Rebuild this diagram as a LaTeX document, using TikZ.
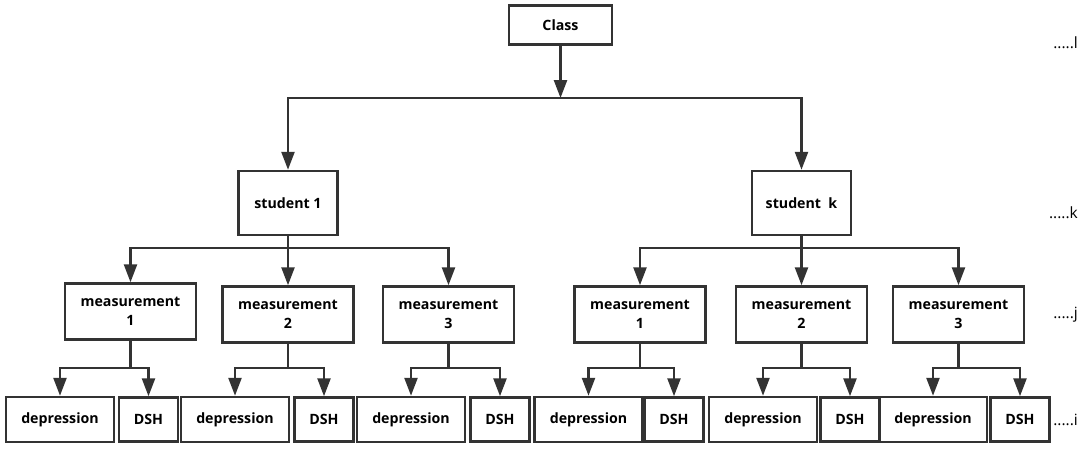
\documentclass[tikz,border=0pt]{standalone}
\usepackage{fontspec}
\setmainfont{Open Sans}
\usetikzlibrary{arrows.meta}
\usetikzlibrary{positioning}
\definecolor{linegray}{HTML}{333333}
\tikzset{box/.style = {draw = linegray, line width = 2.5pt, align = center, inner sep = 0,
    font = \bfseries\fontsize{14.2}{19}\selectfont}}
\tikzset{clsbox/.style = {box, minimum width = 103pt, minimum height = 39pt}}
\tikzset{stdbox/.style = {box, minimum width = 99pt, minimum height = 64pt}}
\tikzset{msrbox/.style = {box, minimum width = 131pt, minimum height = 56pt}}
\tikzset{depbox/.style = {box, minimum width = 108pt, minimum height = 45pt}}
\tikzset{dshbox/.style = {box, minimum width = 59pt, minimum height = 44pt}}
\tikzset{stem/.style = {draw = linegray, line width = 2.5pt}}
\tikzset{arr/.style = {stem, -{Triangle[length = 18pt, width = 13pt]}}}
\tikzset{lvl/.style = {anchor = east, inner sep = 0, font = \fontsize{15.5}{17}\selectfont}}

\begin{document}
\begin{tikzpicture}[x = 1pt, y = -1pt]
    \useasboundingbox (0, 0) rectangle (1084, 451);

    \node [clsbox] (cls) at (560.5, 25) {Class};

    \node [stdbox] (s1) at (288, 203) {student 1};
    \node [stdbox] (sk) at (801.5, 203) {student\ \ k};

    \node [msrbox] (m11) at (130.5, 311.5) {measurement\\1};
    \node [msrbox] (m12) at (288, 314.5) {measurement\\2};
    \node [msrbox] (m13) at (448.5, 314.5) {measurement\\3};
    \node [msrbox] (m21) at (640, 314.5) {measurement\\1};
    \node [msrbox] (m22) at (801.5, 314.5) {measurement\\2};
    \node [msrbox] (m23) at (958.5, 314.5) {measurement\\3};

    \node [depbox] (d11) at (60, 419.5) {depression};
    \node [dshbox] (h11) at (148.5, 419.5) {DSH};
    \node [depbox] (d12) at (235, 419.5) {depression};
    \node [dshbox] (h12) at (324, 419.5) {DSH};
    \node [depbox] (d13) at (411, 419.5) {depression};
    \node [dshbox] (h13) at (500, 419.5) {DSH};
    \node [depbox] (d21) at (588.5, 419.5) {depression};
    \node [dshbox] (h21) at (674, 419.5) {DSH};
    \node [depbox] (d22) at (763, 419.5) {depression};
    \node [dshbox] (h22) at (850, 419.5) {DSH};
    \node [depbox] (d23) at (933, 419.5) {depression};
    \node [dshbox] (h23) at (1020, 419.5) {DSH};

    \node [lvl] (ll) at (1078, 43) {.....l};
    \node [lvl] (lk) at (1078, 213) {.....k};
    \node [lvl] (lj) at (1078, 315) {.....j};
    \node [lvl] (li) at (1078, 420) {.....i};

    % class to students
    \coordinate (c0) at (cls.south |- 0, 98);
    \draw [arr] (cls.south) -- (c0);
    \draw [arr] (c0) -| (s1.north);
    \draw [arr] (c0) -| (sk.north);

    % students to measurements
    \coordinate (c1) at (s1.south |- 0, 248);
    \draw [arr] (s1.south) -- (m12.north);
    \draw [arr] (c1) -| (m11.north);
    \draw [arr] (c1) -| (m13.north);
    \coordinate (c2) at (sk.south |- 0, 248);
    \draw [arr] (sk.south) -- (m22.north);
    \draw [arr] (c2) -| (m21.north);
    \draw [arr] (c2) -| (m23.north);

    % measurements to outcomes
    \coordinate (c11) at (m11.south |- 0, 368);
    \draw [stem] (m11.south) -- (c11);
    \draw [arr] (c11) -| (d11.north);
    \draw [arr] (c11) -| (h11.north);
    \coordinate (c12) at (m12.south |- 0, 368);
    \draw [stem] (m12.south) -- (c12);
    \draw [arr] (c12) -| (d12.north);
    \draw [arr] (c12) -| (h12.north);
    \coordinate (c13) at (m13.south |- 0, 368);
    \draw [stem] (m13.south) -- (c13);
    \draw [arr] (c13) -| (d13.north);
    \draw [arr] (c13) -| (h13.north);
    \coordinate (c21) at (m21.south |- 0, 368);
    \draw [stem] (m21.south) -- (c21);
    \draw [arr] (c21) -| (d21.north);
    \draw [arr] (c21) -| (h21.north);
    \coordinate (c22) at (m22.south |- 0, 368);
    \draw [stem] (m22.south) -- (c22);
    \draw [arr] (c22) -| (d22.north);
    \draw [arr] (c22) -| (h22.north);
    \coordinate (c23) at (m23.south |- 0, 368);
    \draw [stem] (m23.south) -- (c23);
    \draw [arr] (c23) -| (d23.north);
    \draw [arr] (c23) -| (h23.north);
\end{tikzpicture}
\end{document}
